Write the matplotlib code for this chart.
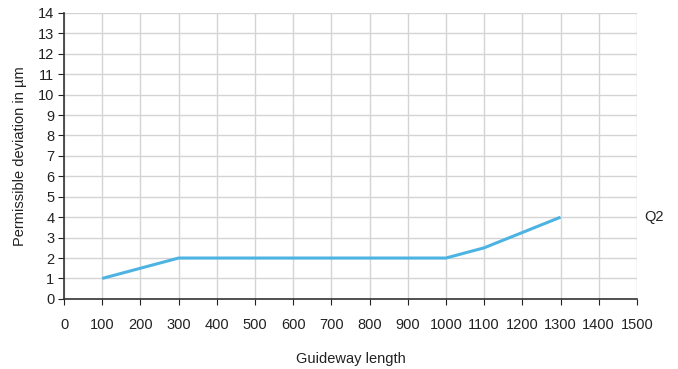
import matplotlib.pyplot as plt

plt.rcParams['font.family'] = ['Liberation Sans', 'DejaVu Sans']

# data
guideway_length = [100, 300, 1000, 1100, 1300]
deviation = [1, 2, 2, 2.5, 4]
x_ticks = list(range(0, 1501, 100))
y_ticks = list(range(0, 15))

fig = plt.figure(figsize=(6.78, 3.69), dpi=100)
ax = fig.add_axes([0.0944, 0.19, 0.845, 0.775])

ax.plot(guideway_length, deviation, color='#4db3e2', linewidth=2.2, solid_capstyle='butt')

ax.set_xlim(0, 1500)
ax.set_ylim(0, 14)
ax.set_xticks(x_ticks)
ax.set_yticks(y_ticks)
ax.grid(color='#d4d4d4', linewidth=1)
ax.set_axisbelow(True)

for s in ['top', 'right']:
    ax.spines[s].set_visible(False)
for s in ['left', 'bottom']:
    ax.spines[s].set_color('#333333')
    ax.spines[s].set_linewidth(1.2)

ax.tick_params(axis='x', length=4, pad=10, labelsize=10.5, colors='#222222')
ax.tick_params(axis='y', length=4, pad=3, labelsize=10.5, colors='#222222')

ax.set_xlabel('Guideway length', fontsize=10.5, color='#222222', labelpad=14)
ax.set_ylabel('Permissible deviation in µm', fontsize=10.5, color='#222222', labelpad=8)

# series label at the right edge
ax.text(1520, 4, 'Q2', fontsize=10.5, color='#222222', va='center', ha='left', clip_on=False)

fig.savefig('out.png', dpi=100)
